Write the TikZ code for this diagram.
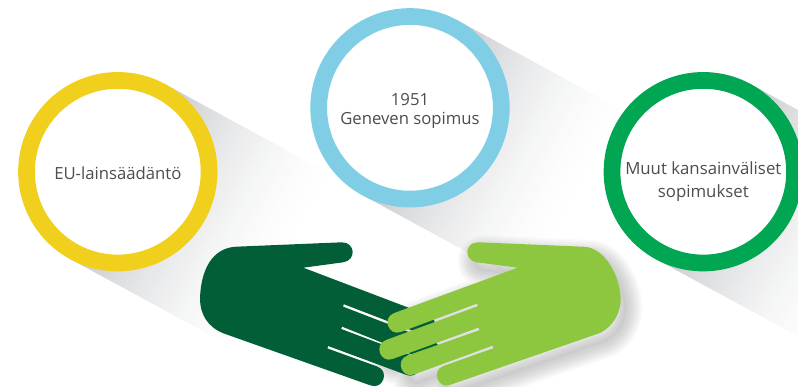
\documentclass[tikz,border=0pt]{standalone}
\usepackage{fontspec}
\setmainfont{Open Sans}
\definecolor{ringyellow}{HTML}{F1CF1D}
\definecolor{ringblue}{HTML}{7FCEE5}
\definecolor{ringgreen}{HTML}{00A651}
\definecolor{handdark}{HTML}{025E37}
\definecolor{handlight}{HTML}{8DC63F}
\definecolor{labeltext}{HTML}{4D4D4F}
\definecolor{shadowbase}{HTML}{C6C8CB}
\newcommand{\lighthandpath}{(478.3,242.3) -- (583.3,246.7) .. controls (603,247) and (619,272) .. (620.7,298) .. controls (621,314) and (612,327) .. (600,333) -- (450.3,384.8) .. controls (437.9,389.5) and (430.9,370.7) .. (443.3,366) -- (493.6,348.2) -- (492.7,345.6) -- (414.2,374.4) .. controls (401.8,379.1) and (394.8,360.3) .. (407.2,355.6) -- (479.4,330.3) -- (478.5,327.6) -- (392.8,358.9) .. controls (380.4,363.6) and (373.4,344.8) .. (385.8,340.1) -- (477.8,306.2) -- (477,303.6) -- (401,331.9) .. controls (388.6,336.6) and (381.6,317.8) .. (394,313.1) -- (517.7,267.7) -- (476.7,262.3) .. controls (463,260) and (465,242) .. (478.3,242.3) -- cycle}
\newcommand{\darkhandpath}{(236,246.7) -- (341.7,242.3) .. controls (355,242) and (357,260) .. (343.3,262.3) -- (303.3,267.7) -- (428.5,315.3) .. controls (440.9,320) and (433.9,338.8) .. (421.5,334.1) -- (343.8,304.2) -- (343,306.6) -- (433.5,341.6) .. controls (445.9,346.3) and (438.9,365.1) .. (426.5,360.4) -- (342,326.6) -- (341.2,329) -- (413.5,356.2) .. controls (425.9,360.9) and (418.9,379.7) .. (406.5,375) -- (328.2,346) -- (327.4,348.4) -- (377.5,366.6) .. controls (389.9,371.3) and (382.9,390.1) .. (370.5,385.4) -- (223.3,333.3) .. controls (208,327) and (200,315) .. (200,298) .. controls (201,270) and (212,248) .. (236,246.7) -- cycle}
\newcommand{\longshadow}[1]{%
  \begin{scope}[shift={(#1)},rotate=-28.5]
    \foreach \k in {0,...,47}{
      \pgfmathsetmacro{\stripstart}{\k*4}
      \pgfmathsetmacro{\stripend}{\k*4+8}
      \pgfmathsetmacro{\mixval}{100*pow(1-\k/48,1.7)}
      \fill[shadowbase!\mixval!white] (\stripstart,-99.3) rectangle (\stripend,99.3);
    }
  \end{scope}}
\tikzset{
  ring/.style={circle,draw=#1,line width=16.7pt,fill=white,minimum size=182.6pt,inner sep=0pt},
  ringlabel/.style={align=center,text=labeltext,inner sep=0pt}
}
\begin{document}
\begin{tikzpicture}[x=1pt,y=-1pt]
\useasboundingbox (0,0) rectangle (798,386);
\clip (0,0) rectangle (798,386);
\coordinate (euc) at (117.8,171.7);
\coordinate (genc) at (410,107.8);
\coordinate (muuc) at (703.3,171.7);
\longshadow{euc}
\longshadow{genc}
\longshadow{muuc}
% soft shadow of the light hand
\begin{scope}[shift={(6,9)}]
  \foreach \w in {32,29.5,...,3}{
    \draw[black,opacity=0.014,line width=\w pt,line join=round] \lighthandpath;
  }
  \fill[black,opacity=0.03] \lighthandpath;
\end{scope}
\fill[handdark] \darkhandpath;
\fill[handlight] \lighthandpath;
\node[ring=ringyellow] (eu) at (euc) {};
\node[ring=ringblue] (gen) at (genc) {};
\node[ring=ringgreen] (muu) at (muuc) {};
\node[ringlabel,font=\fontsize{16.7pt}{19pt}\selectfont] (eutext) at ([yshift=-1.5pt]eu.center) {EU-lainsäädäntö};
\node[ringlabel,font=\fontsize{16.7pt}{19pt}\selectfont] (gentext) at ([yshift=-3.5pt]gen.center) {1951\\Geneven sopimus};
\node[ringlabel,font=\fontsize{16.8pt}{23.5pt}\selectfont] (muutext) at ([yshift=-10pt]muu.center) {Muut kansainväliset\\sopimukset};
\end{tikzpicture}
\end{document}
